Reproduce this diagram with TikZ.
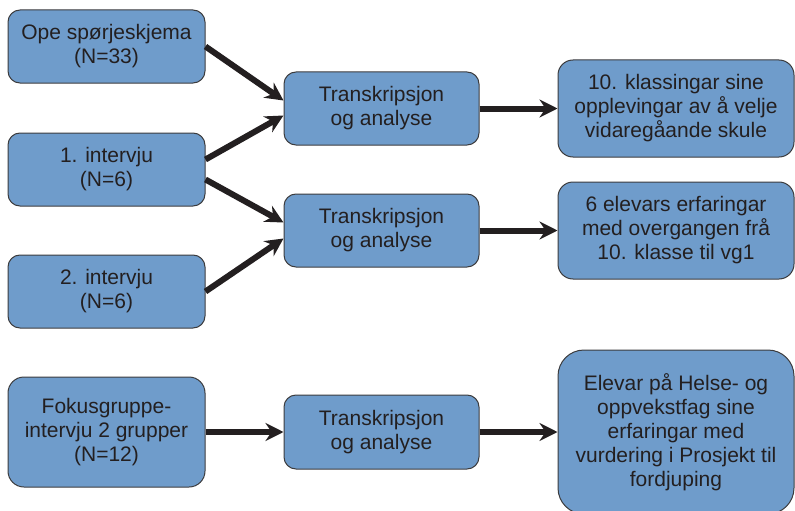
\documentclass[tikz,border=0pt]{standalone}
\usepackage{fontspec}
\setmainfont{Liberation Sans}
\usepackage{xcolor}
\usetikzlibrary{arrows.meta}
\definecolor{boxblue}{RGB}{111,156,203}
\definecolor{boxedge}{RGB}{60,60,62}
\definecolor{boxtext}{RGB}{35,31,32}

\begin{document}
\begin{tikzpicture}[x=1pt,y=-1pt,
		box/.style={draw=boxedge,line width=1pt,fill=boxblue,text=boxtext,align=center,inner sep=0pt,
			rounded corners=12pt,font=\fontsize{21}{24}\selectfont},
		leftbox/.style={box,minimum width=197pt,minimum height=73pt},
		midbox/.style={box,minimum width=195pt,minimum height=73pt},
		rightbox/.style={box,minimum width=236pt,minimum height=97pt,rounded corners=15pt},
		flow/.style={line width=6pt,draw=boxtext,-{Stealth[length=18pt,width=18pt,inset=6pt]}}]
			\clip (0,0) rectangle (795,511);
			% left column
			\node[leftbox] (ope) at (106.5,46.5) {Ope spørjeskjema\\(N=33)};
			\node[leftbox] (iv1) at (106.5,169.5) {1. intervju\\(N=6)};
			\node[leftbox] (iv2) at (106.5,291.5) {2. intervju\\(N=6)};
			\node[leftbox,minimum height=110pt,rounded corners=16pt] (fokus) at (106.5,432) {Fokusgruppe-\\intervju 2 grupper\\(N=12)};
			% middle column
			\node[midbox] (ta1) at (381.5,108.5) {Transkripsjon\\og analyse};
			\node[midbox] (ta2) at (381.5,230.5) {Transkripsjon\\og analyse};
			\node[midbox,minimum height=74pt] (ta3) at (381.5,432) {Transkripsjon\\og analyse};
			% right column
			\node[rightbox] (res1) at (676,108.5) {10. klassingar sine\\opplevingar av å velje\\vidaregåande skule};
			\node[rightbox] (res2) at (676,230.5) {6 elevars erfaringar\\med overgangen frå\\10. klasse til vg1};
			\node[rightbox,minimum height=164pt,rounded corners=26pt] (res3) at (676,432) {Elevar på Helse- og\\oppvekstfag sine\\erfaringar med\\vurdering i Prosjekt til\\fordjuping};
			% arrows
			\draw[flow] (ope.east) -- ([yshift=8pt]ta1.west);
			\draw[flow] ([yshift=10pt]iv1.east) -- ([yshift=-7pt]ta1.west);
			\draw[flow] ([yshift=-10pt]iv1.east) -- ([yshift=8pt]ta2.west);
			\draw[flow] (iv2.east) -- ([yshift=-8pt]ta2.west);
			\foreach \Von/\Nach in {fokus/ta3,ta1/res1,ta2/res2,ta3/res3}
				\draw[flow] (\Von.east) -- (\Nach.west);
		\end{tikzpicture}
\end{document}
